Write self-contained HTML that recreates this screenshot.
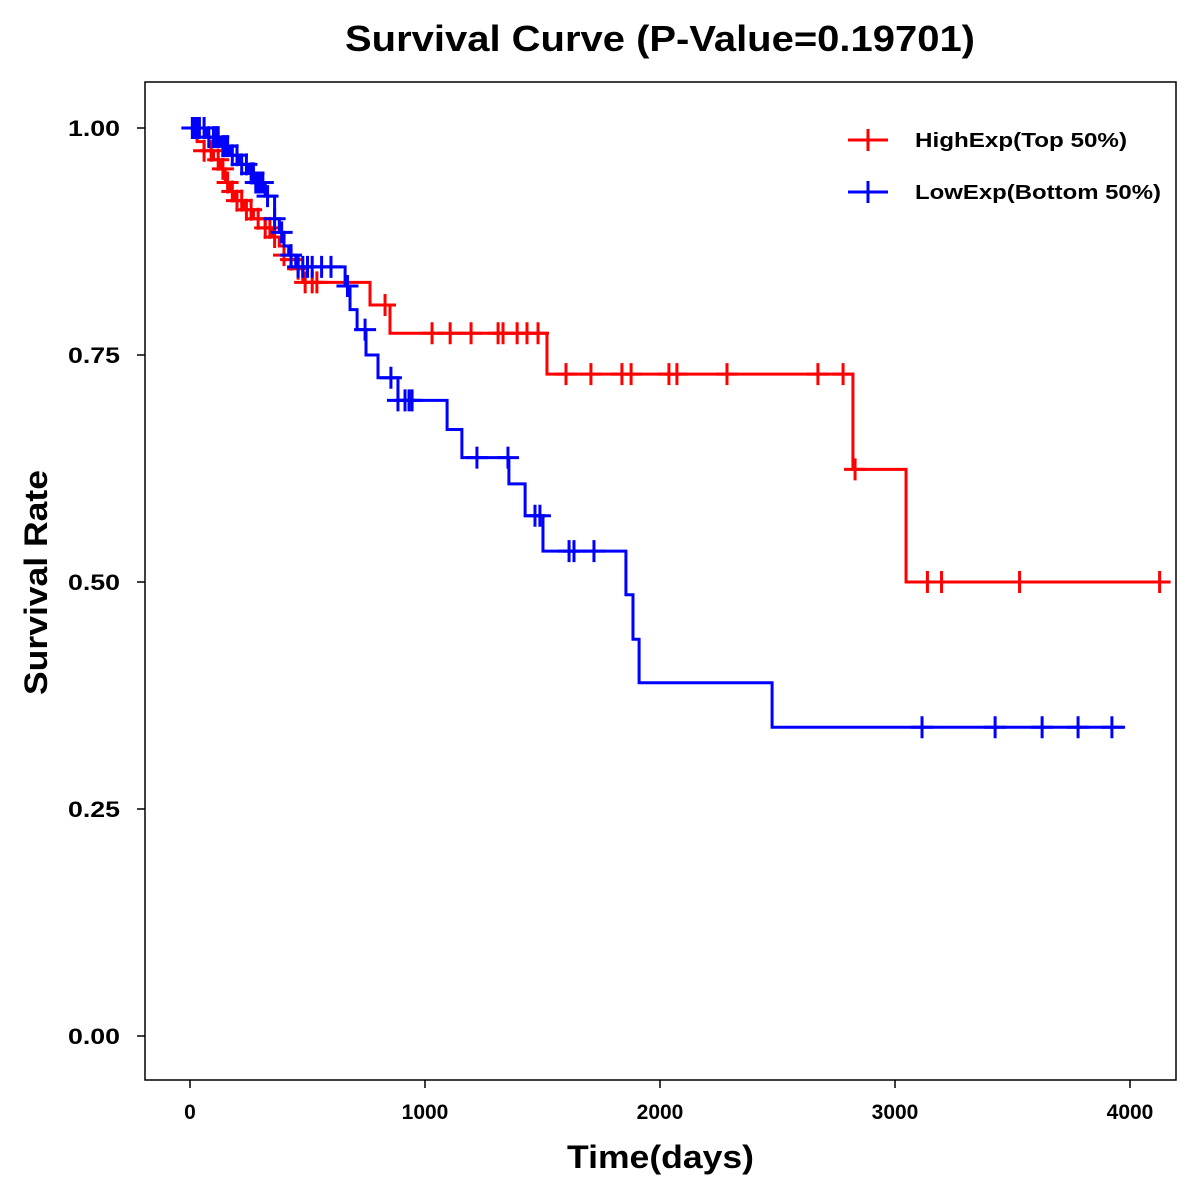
<!DOCTYPE html>
<html><head><meta charset="utf-8"><style>
html,body{margin:0;padding:0;background:#fff}
svg{display:block;font-family:"Liberation Sans",Arial,sans-serif;font-weight:bold}
</style></head><body>
<svg id="chart" width="1200" height="1200" viewBox="0 0 1200 1200">
<text x="345" y="51" font-size="36" textLength="630" lengthAdjust="spacingAndGlyphs">Survival Curve (P-Value=0.19701)</text>
<rect x="145" y="82" width="1031" height="998" fill="none" stroke="#000" stroke-width="1.5"/>
<g id="xaxis"></g>
<g id="yaxis"></g>
<text x="567" y="1168" font-size="32" textLength="187" lengthAdjust="spacingAndGlyphs">Time(days)</text>
<text transform="translate(47,695) rotate(-90)" font-size="32" textLength="225" lengthAdjust="spacingAndGlyphs">Survival Rate</text>
<g id="series"></g>
<g>
<g>
<line x1="848" y1="140" x2="888" y2="140" stroke="#f00" stroke-width="3"/><line x1="868" y1="129" x2="868" y2="151" stroke="#f00" stroke-width="3"/>
<text x="915" y="147" font-size="20" textLength="212" lengthAdjust="spacingAndGlyphs">HighExp(Top 50%)</text></g>
<g>
<line x1="848" y1="192" x2="888" y2="192" stroke="#00f" stroke-width="3"/><line x1="868" y1="181" x2="868" y2="203" stroke="#00f" stroke-width="3"/>
<text x="915" y="199" font-size="20" textLength="246" lengthAdjust="spacingAndGlyphs">LowExp(Bottom 50%)</text></g>
</g>
</svg>
<script>
const xTicks=[0,1000,2000,3000,4000];
const yTicks=[0,0.25,0.5,0.75,1.0];
const yTickLabels=["0.00","0.25","0.50","0.75","1.00"];
const highTimes=[30,60,100,130,150,170,190,230,270,320,350,380,400,430,460,480,766,851,1519,2821,3047];
const highSurv=[0.985,0.975,0.965,0.955,0.94,0.93,0.92,0.91,0.90,0.89,0.88,0.87,0.86,0.855,0.845,0.83,0.805,0.774,0.729,0.624,0.50];
const highEnd=4130;
const highCensor=[20,60,90,120,140,160,180,200,220,240,260,290,320,340,360,400,430,460,490,520,540,830,1030,1107,1196,1311,1332,1392,1434,1481,1600,1706,1838,1877,2038,2072,2285,2672,2779,2830,3138,3198,3530,4126];
const lowTimes=[70,130,170,210,250,280,320,360,380,400,420,450,660,681,711,749,800,885,1094,1157,1357,1426,1502,1855,1885,1911,2477];
const lowSurv=[0.99,0.98,0.97,0.96,0.95,0.94,0.925,0.90,0.885,0.87,0.86,0.847,0.826,0.80,0.778,0.75,0.725,0.70,0.668,0.637,0.608,0.573,0.534,0.486,0.437,0.389,0.340];
const lowEnd=3979;
const lowCensor=[10,20,30,40,60,80,100,110,120,140,150,160,180,200,220,240,260,270,280,290,300,310,330,360,390,430,460,480,500,520,560,600,670,745,855,885,915,932,945,1221,1353,1468,1489,1613,1634,1719,3115,3426,3626,3779,3923];
const NS='http://www.w3.org/2000/svg';
const X=d=>190+d*0.235, Y=s=>1036-s*908;
function mk(tag,attrs,parent){const e=document.createElementNS(NS,tag);for(const k in attrs)e.setAttribute(k,attrs[k]);parent.appendChild(e);return e;}
const xa=document.getElementById('xaxis'),ya=document.getElementById('yaxis'),sg=document.getElementById('series');
xTicks.forEach(t=>{const l=mk('line',{x1:X(t),x2:X(t),y1:1080,y2:1088,stroke:'#000','stroke-width':1.5},xa);


const tx=mk('text',{x:X(t),y:1119,'text-anchor':'middle','font-size':21},xa);tx.textContent=t;

});
yTicks.forEach((t,i)=>{const l=mk('line',{x1:137,x2:145,y1:Y(t),y2:Y(t),stroke:'#000','stroke-width':1.5},ya);


const tx=mk('text',{x:68,y:Y(t)+8,'font-size':22,textLength:52,lengthAdjust:'spacingAndGlyphs'},ya);tx.textContent=yTickLabels[i];

});
function survAt(times,surv,t){let s=1;for(let i=0;i<times.length;i++){if(times[i]<=t)s=surv[i];}return s;}
function draw(times,surv,end,cens,color,name){
 const g=mk('g',{},sg);
 
 
 let d='M'+X(0)+' '+Y(1);
 times.forEach((t,i)=>{d+=' H'+X(t)+' V'+Y(surv[i]);});
 d+=' H'+X(end);
 const p=mk('path',{d:d,fill:'none',stroke:color,'stroke-width':3},g);
 
 
 cens.forEach(c=>{const x=X(c),y=Y(survAt(times,surv,c));
  const m=mk('path',{d:`M${x-11} ${y} H${x+11} M${x} ${y-11} V${y+11}`,stroke:color,'stroke-width':3,fill:'none'},g);
  
  });
}
draw(highTimes,highSurv,highEnd,highCensor,'#f00','high-exp-curve');
draw(lowTimes,lowSurv,lowEnd,lowCensor,'#00f','low-exp-curve');
</script>
</body></html>
